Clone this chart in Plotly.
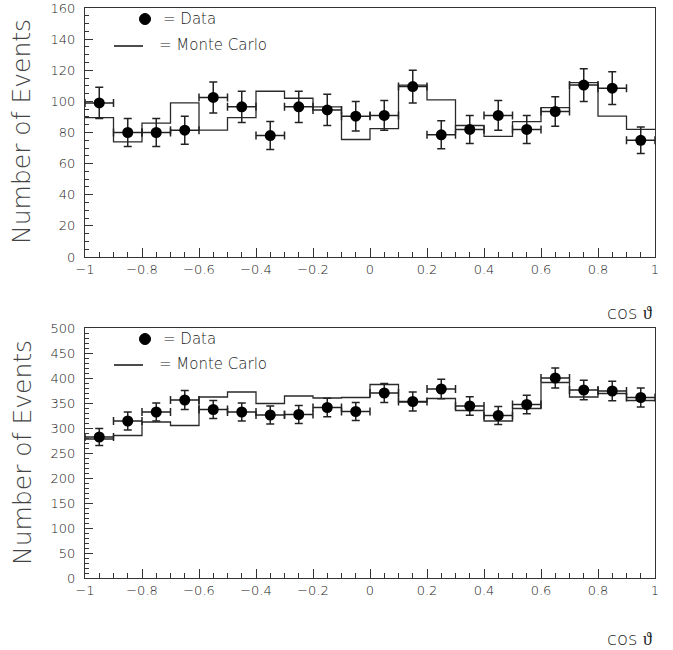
import plotly.graph_objects as go

# ---- data ----
bin_centers = [-0.95, -0.85, -0.75, -0.65, -0.55, -0.45, -0.35, -0.25, -0.15, -0.05,
               0.05, 0.15, 0.25, 0.35, 0.45, 0.55, 0.65, 0.75, 0.85, 0.95]
bin_edges = [-1.0, -0.9, -0.8, -0.7, -0.6, -0.5, -0.4, -0.3, -0.2, -0.1, 0.0,
             0.1, 0.2, 0.3, 0.4, 0.5, 0.6, 0.7, 0.8, 0.9, 1.0]
bin_halfwidth = 0.05

top_data = [99, 80, 80, 81.5, 102.5, 96.5, 78, 96.5, 94.5, 90.5,
            91, 109.5, 78.5, 82, 91, 82, 93.5, 110.5, 108.5, 75]
top_err = [10, 9, 9, 9, 10, 10, 9, 10, 10, 9.5,
           9.5, 10.5, 9, 9, 9.5, 9, 9.5, 10.5, 10.5, 8.5]
top_mc = [89.5, 74, 86, 99, 81.5, 89.5, 106.5, 102, 96.5, 75.5,
          82.5, 110.5, 101, 84.5, 77.5, 87, 96, 112, 90.5, 82]

bot_data = [282, 314, 332, 356, 337, 332, 326, 327, 341, 333,
            370, 353, 378, 344, 325, 347, 400, 376, 374, 361]
bot_err = [17, 18, 18, 19, 18, 18, 18, 18, 18.5, 18,
           19, 19, 19.5, 18.5, 18, 18.5, 20, 19.5, 19.5, 19]
bot_mc = [278, 285, 312, 305, 362, 372, 349, 364, 360, 361,
          387, 352, 359, 335, 314, 339, 391, 362, 369, 355]

x_ticks = [-1, -0.8, -0.6, -0.4, -0.2, 0, 0.2, 0.4, 0.6, 0.8, 1]
x_ticktext = ["\u22121", "\u22120.8", "\u22120.6", "\u22120.4", "\u22120.2", "0",
              "0.2", "0.4", "0.6", "0.8", "1"]

W, H = 673, 650
FONT = "DejaVu Sans"
INK = "#222222"
LIGHT = 200

fig = go.Figure()

def add_panel(data, err, mc, xa, ya):
    fig.add_trace(go.Scatter(
        x=bin_edges, y=mc + [mc[-1]], mode="lines", line_shape="hv",
        line=dict(color="#2a2a2a", width=1.3), xaxis=xa, yaxis=ya,
        showlegend=False, hoverinfo="skip"))
    fig.add_trace(go.Scatter(
        x=bin_centers, y=data, mode="markers",
        marker=dict(color="black", size=11),
        error_y=dict(type="data", array=err, color=INK, thickness=1.5, width=4),
        error_x=dict(type="constant", value=bin_halfwidth, color=INK, thickness=1.5, width=4),
        xaxis=xa, yaxis=ya, showlegend=False))

add_panel(top_data, top_err, top_mc, "x", "y")
add_panel(bot_data, bot_err, bot_mc, "x2", "y2")

xdom = [85 / W, 655 / W]
top_dom = [1 - 257 / H, 1 - 8 / H]
bot_dom = [1 - 578 / H, 1 - 328 / H]

xcommon = dict(range=[-1, 1], tickmode="array", tickvals=x_ticks, ticktext=x_ticktext,
               ticks="inside", ticklen=9, tickwidth=1, tickcolor="#333",
               minor=dict(ticks="inside", ticklen=5, dtick=0.05, tickcolor="#333"),
               showline=True, linecolor="#333", linewidth=1, mirror=True,
               showgrid=False, zeroline=False, automargin=False,
               tickfont=dict(family=FONT, size=13, color=INK, weight=LIGHT), domain=xdom)

ycommon = dict(ticks="inside", ticklen=8, tickwidth=1, tickcolor="#333",
               showline=True, linecolor="#333", linewidth=1, mirror=True,
               showgrid=False, zeroline=False, ticklabelstandoff=6, automargin=False,
               tickfont=dict(family=FONT, size=13, color=INK, weight=LIGHT))

fig.update_layout(
    width=W, height=H, margin=dict(l=0, r=0, t=0, b=0, autoexpand=False),
    paper_bgcolor="white", plot_bgcolor="white",
    xaxis=dict(anchor="y", **xcommon),
    xaxis2=dict(anchor="y2", **xcommon),
    yaxis=dict(anchor="x", domain=top_dom, range=[0, 160], dtick=20,
               minor=dict(ticks="inside", ticklen=4, dtick=5, tickcolor="#333"), **ycommon),
    yaxis2=dict(anchor="x2", domain=bot_dom, range=[0, 500], dtick=50,
                minor=dict(ticks="inside", ticklen=4, dtick=10, tickcolor="#333"), **ycommon),
)

annotations = []
shapes = []
for (ycen_title, y_data_leg, y_mc_leg, y_cos) in [(132, 19, 45, 313), (453, 339, 364, 638)]:
    annotations.append(dict(text="Number of Events", x=22 / W, y=1 - ycen_title / H,
                            xref="paper", yref="paper", showarrow=False, textangle=-90,
                            xanchor="center", yanchor="middle",
                            font=dict(family=FONT, size=25, color="#444", weight=LIGHT)))
    annotations.append(dict(text="= Data", x=161 / W, y=1 - y_data_leg / H,
                            xref="paper", yref="paper", showarrow=False,
                            xanchor="left", yanchor="middle",
                            font=dict(family=FONT, size=15, color=INK, weight=LIGHT)))
    annotations.append(dict(text="= Monte Carlo", x=157 / W, y=1 - y_mc_leg / H,
                            xref="paper", yref="paper", showarrow=False,
                            xanchor="left", yanchor="middle",
                            font=dict(family=FONT, size=15, color=INK, weight=LIGHT)))
    annotations.append(dict(text="cos \u03d1", x=654 / W, y=1 - y_cos / H,
                            xref="paper", yref="paper", showarrow=False,
                            xanchor="right", yanchor="middle",
                            font=dict(family=FONT, size=18, color=INK, weight=LIGHT)))
    shapes.append(dict(type="circle", xref="paper", yref="paper",
                       x0=139.5 / W, x1=150.5 / W, y0=1 - (y_data_leg + 5.5) / H,
                       y1=1 - (y_data_leg - 5.5) / H,
                       fillcolor="black", line=dict(color="black", width=1)))
    shapes.append(dict(type="line", xref="paper", yref="paper",
                       x0=114 / W, x1=143 / W, y0=1 - (y_mc_leg + 1) / H, y1=1 - (y_mc_leg + 1) / H,
                       line=dict(color="#111", width=1.5)))

fig.update_layout(annotations=annotations, shapes=shapes)

fig.write_html("out.html")
